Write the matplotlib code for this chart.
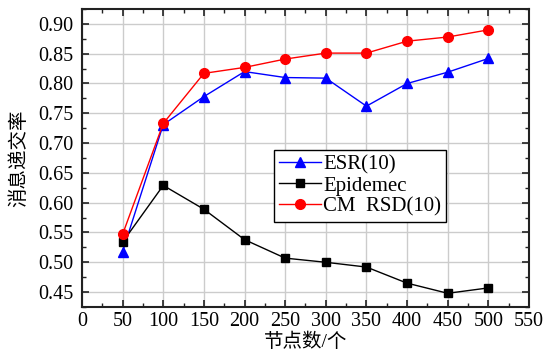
import matplotlib
matplotlib.use("Agg")
import matplotlib.pyplot as plt
from matplotlib.ticker import MultipleLocator

plt.rcParams['font.family'] = ['Liberation Serif', 'Noto Sans CJK SC']

# node counts
nodes = [50, 100, 150, 200, 250, 300, 350, 400, 450, 500]

# delivery ratio per protocol
esr = [0.518, 0.731, 0.778, 0.820, 0.810, 0.809, 0.762, 0.800, 0.819, 0.842]
epidemec = [0.534, 0.629, 0.589, 0.538, 0.507, 0.500, 0.492, 0.465, 0.448, 0.457]
cm_rsd = [0.547, 0.733, 0.817, 0.827, 0.841, 0.851, 0.851, 0.871, 0.878, 0.890]

fig = plt.figure(figsize=(5.48, 3.63), dpi=100)
ax = fig.add_axes([0.1496, 0.1543, 0.8157, 0.8209])

ax.plot(nodes, esr, color='blue', lw=1, marker='^', ms=7.5, label='ESR(10)', zorder=3)
ax.plot(nodes, epidemec, color='black', lw=1, marker='s', ms=6, label='Epidemec', zorder=3)
ax.plot(nodes, cm_rsd, color='red', lw=1, marker='o', ms=7, label='CM  RSD(10)', zorder=3)

ax.set_xlim(0, 550)
ax.set_ylim(0.425, 0.925)
ax.xaxis.set_major_locator(MultipleLocator(50))
ax.xaxis.set_minor_locator(MultipleLocator(25))
ax.yaxis.set_major_locator(MultipleLocator(0.05))
ax.yaxis.set_minor_locator(MultipleLocator(0.025))
ax.yaxis.set_major_formatter(plt.FuncFormatter(lambda v, p: f"{v:.2f}"))

ax.grid(True, which='major', color='#cccccc', lw=1)
ax.set_axisbelow(True)
ax.tick_params(which='both', direction='in', top=True, right=True, labelsize=14.5, color='#222222')
ax.tick_params(which='major', length=5, width=1.2)
ax.tick_params(axis='y', pad=6)
ax.tick_params(which='minor', length=3, width=1)
for s in ax.spines.values():
    s.set_linewidth(1.5)
    s.set_color('#222222')

ax.set_xlabel('节点数/个', fontsize=14, labelpad=1)
ax.set_ylabel('消息递交率', fontsize=14, labelpad=7)

leg = ax.legend(loc='upper left', bbox_to_anchor=(274/548, 1 - 150/363),
                bbox_transform=fig.transFigure, borderaxespad=0,
                fontsize=15, frameon=True, fancybox=False, framealpha=1,
                edgecolor='black', handlelength=2.0, handletextpad=0.1,
                labelspacing=0.06, borderpad=0.25)
leg.get_frame().set_linewidth(1)

fig.savefig('out.png', dpi=100)
